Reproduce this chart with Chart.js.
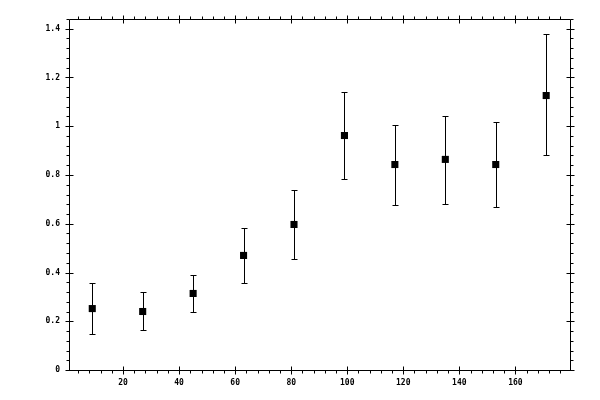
<!DOCTYPE html>
<html>
<head>
<meta charset="utf-8">
<script src="https://cdn.jsdelivr.net/npm/chart.js@4"></script>
<style>
  body { margin: 0; background: #fff; }
  #wrap { width: 600px; height: 400px; }
</style>
</head>
<body>
<div id="wrap"><canvas id="errChart" width="600" height="400"></canvas></div>
<script>
var xs    = [9, 27, 45, 63, 81, 99, 117, 135, 153, 171];
var ys    = [0.252, 0.240, 0.314, 0.470, 0.597, 0.962, 0.843, 0.864, 0.843, 1.126];
var yLow  = [0.147, 0.166, 0.240, 0.355, 0.457, 0.782, 0.675, 0.683, 0.667, 0.881];
var yHigh = [0.355, 0.318, 0.388, 0.583, 0.739, 1.139, 1.007, 1.044, 1.016, 1.377];

var xTicks = [20, 40, 60, 80, 100, 120, 140, 160];
var yTicks = [0, 0.2, 0.4, 0.6, 0.8, 1, 1.2, 1.4];
var yTickLabels = ['0', '0.2', '0.4', '0.6', '0.8', '1', '1.2', '1.4'];

var points = xs.map(function (x, i) { return {x: x, y: ys[i]}; });

// draws error bars through the chart scales
const errorBars = {
  id: 'errorBars',
  afterDatasetsDraw(chart) {
    const ctx = chart.ctx, xS = chart.scales.x, yS = chart.scales.y;
    ctx.save();
    ctx.strokeStyle = '#000';
    ctx.lineWidth = 1;
    for (let i = 0; i < xs.length; i++) {
      const px = Math.round(xS.getPixelForValue(xs[i])) + 0.5;
      const lo = Math.round(yS.getPixelForValue(yLow[i])) + 0.5;
      const hi = Math.round(yS.getPixelForValue(yHigh[i])) + 0.5;
      ctx.beginPath();
      ctx.moveTo(px, lo); ctx.lineTo(px, hi);
      ctx.moveTo(px - 3, lo); ctx.lineTo(px + 3, lo);
      ctx.moveTo(px - 3, hi); ctx.lineTo(px + 3, hi);
      ctx.stroke();
    }
    ctx.restore();
  }
};

// box frame with major/minor ticks on all four sides
const frame = {
  id: 'frame',
  afterDraw(chart) {
    const ctx = chart.ctx, a = chart.chartArea;
    const xS = chart.scales.x, yS = chart.scales.y;
    const L = Math.round(a.left) + 0.5, R = Math.round(a.right) + 0.5;
    const T = Math.round(a.top) + 0.5, B = Math.round(a.bottom) + 0.5;
    ctx.save();
    ctx.strokeStyle = '#000';
    ctx.lineWidth = 1;
    ctx.beginPath();
    ctx.rect(L, T, R - L, B - T);
    // x ticks
    for (let v = 4; v < xS.max; v += 4) {
      const px = Math.round(xS.getPixelForValue(v)) + 0.5;
      const major = v % 20 === 0;
      ctx.moveTo(px, B - (major ? 4 : 0)); ctx.lineTo(px, B + (major ? 4 : 3));
      ctx.moveTo(px, T + (major ? 4 : 0)); ctx.lineTo(px, T - (major ? 4 : 3));
    }
    // y ticks
    for (let k = 0; k * 0.04 <= yS.max + 1e-9; k++) {
      const v = k * 0.04;
      const py = Math.round(yS.getPixelForValue(v)) + 0.5;
      const major = k % 5 === 0;
      ctx.moveTo(L + (major ? 4 : 0), py); ctx.lineTo(L - (major ? 4 : 3), py);
      ctx.moveTo(R - (major ? 4 : 0), py); ctx.lineTo(R + (major ? 4 : 3), py);
    }
    ctx.stroke();
    ctx.restore();
  }
};

var ctxErr = document.getElementById('errChart');
var errChart = new Chart(ctxErr, {
  type: 'scatter',
  data: {
    datasets: [{
      data: points,
      pointStyle: 'rect',
      pointRadius: 5,
      pointHoverRadius: 5,
      backgroundColor: '#000',
      borderColor: '#000',
      borderWidth: 0
    }]
  },
  options: {
    responsive: false,
    animation: false,
    events: [],
    layout: { padding: { top: 19, right: 30, left: 0, bottom: 0 } },
    plugins: { legend: { display: false }, tooltip: { enabled: false } },
    scales: {
      x: {
        type: 'linear',
        min: 0.7,
        max: 179.5,
        grid: { display: false, drawTicks: false },
        border: { display: false },
        afterBuildTicks: function (s) { s.ticks = xTicks.map(function (v) { return {value: v}; }); },
        afterFit: function (s) { s.height = 30; },
        ticks: {
          padding: 8,
          color: '#000',
          font: { family: 'DejaVu Sans Mono', size: 8, weight: 'bold' },
          maxRotation: 0,
          callback: function (v) { return String(v); }
        }
      },
      y: {
        type: 'linear',
        min: 0,
        max: 1.44,
        grid: { display: false, drawTicks: false },
        border: { display: false },
        afterBuildTicks: function (s) { s.ticks = yTicks.map(function (v) { return {value: v}; }); },
        afterFit: function (s) { s.width = 69; },
        ticks: {
          padding: 9,
          color: '#000',
          font: { family: 'DejaVu Sans Mono', size: 8, weight: 'bold' },
          callback: function (v, i) { return yTickLabels[i]; }
        }
      }
    }
  },
  plugins: [errorBars, frame]
});
</script>
</body>
</html>
